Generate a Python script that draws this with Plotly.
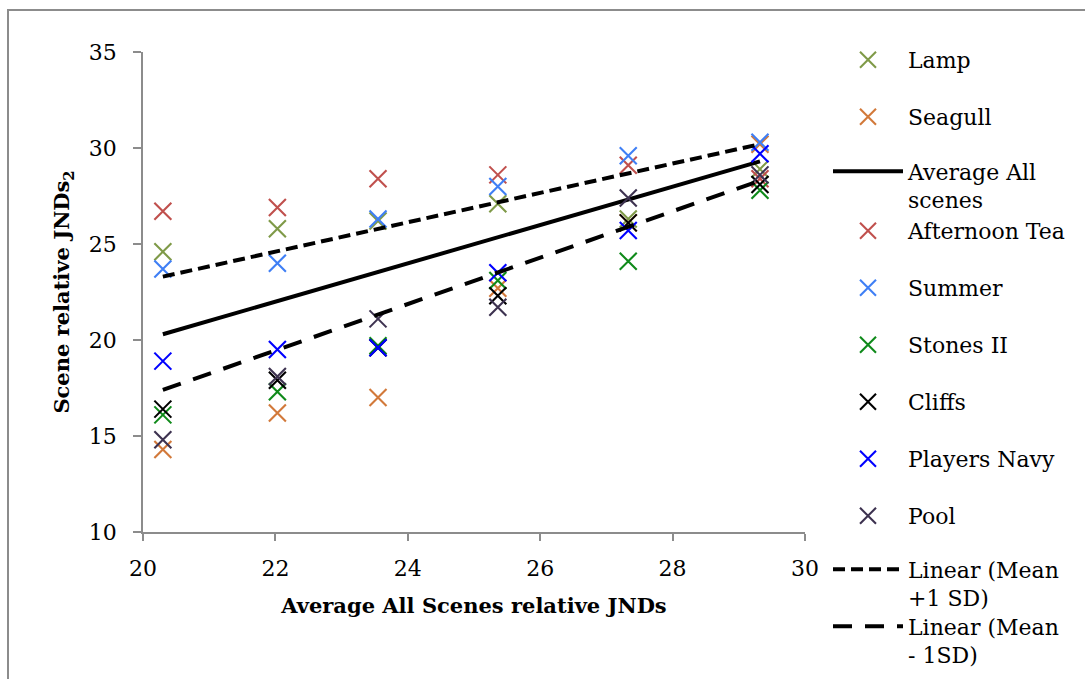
import plotly.graph_objects as go

# Average relative JNDs across all scenes (x positions of the six levels)
avg_all = [20.30, 22.03, 23.55, 25.36, 27.33, 29.32]

# Per-scene relative JNDs at each level
lamp = [24.6, 25.8, 26.2, 27.1, 26.3, 28.9]
seagull = [14.3, 16.2, 17.0, 22.7, 26.1, 30.2]
afternoon_tea = [26.7, 26.9, 28.4, 28.6, 29.1, 28.4]
summer = [23.7, 24.0, 26.3, 28.0, 29.6, 30.3]
stones_ii = [16.1, 17.3, 19.7, 23.1, 24.1, 27.8]
cliffs = [16.4, 17.9, 19.6, 22.3, 26.1, 28.1]
players_navy = [18.9, 19.5, 19.6, 23.5, 25.7, 29.7]
pool = [14.8, 18.1, 21.1, 21.7, 27.4, 28.6]

# Reference lines (end points at the first and last level)
line_x = [20.30, 29.32]
average_line = [20.3, 29.3]
mean_plus_sd = [23.3, 30.2]
mean_minus_sd = [17.4, 28.3]

x_ticks = [20, 22, 24, 26, 28, 30]
y_ticks = [10, 15, 20, 25, 30, 35]

FONT = "DejaVu Serif"
W, H = 1085, 679
PL, PR, PT, PB = 143, 805, 52, 532  # plot area in pixels


def paper_x(px):
    return (px - PL) / (PR - PL)


def paper_y(py):
    return (PB - py) / (PB - PT)


fig = go.Figure()

legend_left = paper_x(828)
legend_layouts = {}


def add_legend(name, symbol_y, two_lines=False):
    centre = symbol_y + (13 if two_lines else 0)
    legend_layouts[name] = dict(
        x=legend_left, xanchor="left", y=paper_y(centre), yanchor="middle",
        bgcolor="rgba(0,0,0,0)", borderwidth=0, itemwidth=70,
        valign="top", font=dict(family=FONT, size=22, color="#000"),
        itemclick=False, itemdoubleclick=False,
    )


legend_ids = iter(["legend"] + [f"legend{i}" for i in range(2, 20)])


def scatter_series(name, values, color, symbol_y):
    lid = next(legend_ids)
    add_legend(lid, symbol_y)
    fig.add_trace(go.Scatter(
        x=avg_all, y=values, mode="markers", name=name, legend=lid,
        marker=dict(symbol="x-thin", size=17, color=color,
                    line=dict(width=2.1, color=color)),
    ))


def line_series(name, xs, ys, dash, symbol_y, two_lines):
    lid = next(legend_ids)
    add_legend(lid, symbol_y, two_lines)
    fig.add_trace(go.Scatter(
        x=xs, y=ys, mode="lines", name=name, legend=lid,
        line=dict(color="#000", width=4, dash=dash),
    ))


scatter_series("Lamp", lamp, "#7f9a48", 60)
scatter_series("Seagull", seagull, "#d2793a", 117)
line_series("Average All<br>scenes", line_x, average_line, "solid", 173, True)
scatter_series("Afternoon Tea", afternoon_tea, "#c0504d", 231)
scatter_series("Summer", summer, "#3f7ff5", 288)
scatter_series("Stones II", stones_ii, "#0f8a1a", 345)
scatter_series("Cliffs", cliffs, "#000000", 402)
scatter_series("Players Navy", players_navy, "#0000ff", 459)
scatter_series("Pool", pool, "#3d3250", 516)
line_series("Linear (Mean<br>+1 SD)", line_x, mean_plus_sd, "12px,6px", 571, True)
line_series("Linear (Mean<br>- 1SD)", line_x, mean_minus_sd, "19px,13px", 628, True)

axis_common = dict(
    showgrid=False, zeroline=False, showline=True, linecolor="#8c8c8c",
    linewidth=1.5, ticks="outside", tickcolor="#8c8c8c", tickwidth=1.5,
    tickfont=dict(family=FONT, size=22, color="#000"),
    automargin=False,
)

fig.update_layout(
    width=W, height=H,
    margin=dict(l=PL, r=W - PR, t=PT, b=H - PB, pad=0, autoexpand=False),
    paper_bgcolor="white", plot_bgcolor="white",
    showlegend=True,
    xaxis=dict(
        range=[20, 30], tickvals=x_ticks, ticklen=7, ticklabelstandoff=9,
        title=dict(text="Average All Scenes relative JNDs", standoff=18,
                   font=dict(family=FONT, size=21, color="#000", weight="bold")),
        **axis_common,
    ),
    yaxis=dict(
        range=[10, 35], tickvals=y_ticks, ticklen=8, ticklabelstandoff=12,
        title=dict(text="Scene relative JNDs<sub>2</sub>", standoff=13,
                   font=dict(family=FONT, size=21, color="#000", weight="bold")),
        **axis_common,
    ),
    shapes=[dict(
        type="rect", xref="paper", yref="paper", layer="below",
        x0=paper_x(8), x1=paper_x(1200), y0=paper_y(800), y1=paper_y(10),
        line=dict(color="#8c8c8c", width=2), fillcolor="rgba(0,0,0,0)",
    )],
    **legend_layouts,
)

fig.write_html("out.html")
